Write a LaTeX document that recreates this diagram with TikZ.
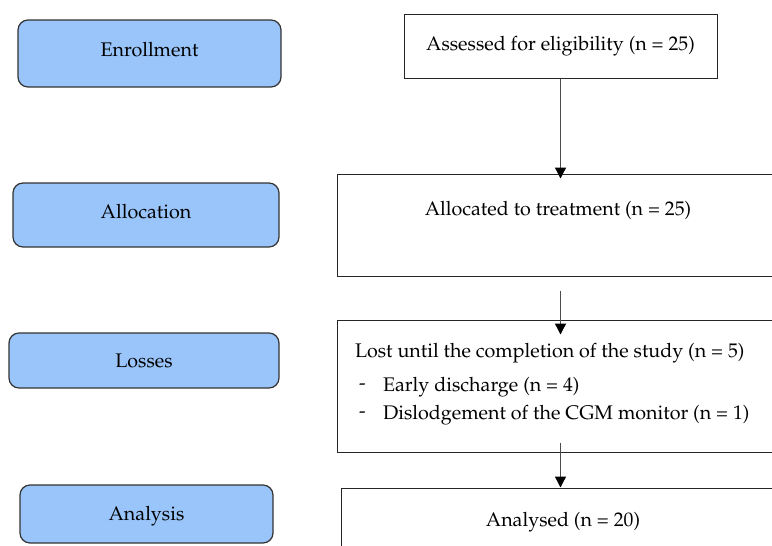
\documentclass[tikz,border=0pt]{standalone}
\usepackage[T1]{fontenc}
\usepackage{mathpazo}
\usetikzlibrary{arrows.meta}
\definecolor{stageblue}{RGB}{153,197,250}
\tikzset{
  stage/.style={draw=black!80, fill=stageblue, rounded corners=5pt, line width=0.6pt, inner sep=0pt},
  stepbox/.style={draw=black!85, line width=0.5pt, inner sep=0pt},
  flow/.style={-{Triangle[width=5.5pt,length=5.5pt,fill=black,color=black]}, line width=0.7pt, draw=black!70}
}

\begin{document}
\begin{tikzpicture}[x=0.5pt, y=-0.5pt, font=\fontsize{9.85}{12}\selectfont]
    \useasboundingbox (0,0) rectangle (772,546);
    \clip (0,0) rectangle (772,546);

    % stages on the left
    \node[stage, minimum width=131.5pt, minimum height=33.5pt] (enrol) at (149.5,53.5) {};
    \node[stage, minimum width=133pt, minimum height=32pt] (alloc) at (146,215) {};
    \node[stage, minimum width=135pt, minimum height=27.5pt] (loss) at (144,360.5) {};
    \node[stage, minimum width=126.5pt, minimum height=29pt] (anal) at (146.5,514) {};

    \node at (149.5,50) {Enrollment};
    \node at (146,212) {Allocation};
    \node at (144,361) {Losses};
    \node at (146.5,516) {Analysis};

    % flow boxes on the right
    \node[stepbox, minimum width=156.5pt, minimum height=32pt] (assessed) at (560.5,46) {Assessed for eligibility (n = 25)};
    \node[stepbox, minimum width=231.5pt, minimum height=51pt] (allocated) at (568.5,225) {};
    \node[stepbox, minimum width=231.5pt, minimum height=66pt] (lost) at (568.5,386) {};
    \node[stepbox, minimum width=229.5pt, minimum height=56pt] (analysed) at (570.5,544) {};

    \node at (558,210) {Allocated to treatment (n = 25)};
    \node[anchor=west] (losttxt) at (348,353) {Lost until the completion of the study (n = 5)};
    \node[anchor=west] at (352,387) {-};
    \node[anchor=west] at (376,387) {Early discharge (n = 4)};
    \node[anchor=west] at (352,415) {-};
    \node[anchor=west] at (376,415) {Dislodgement of the CGM monitor (n = 1)};
    \node at (563,522) {Analysed (n = 20)};

    % arrows
    \draw[flow, shorten >=-2.5pt] (assessed.south) -- (assessed.south |- allocated.north);
    \draw[flow, shorten <=7pt, shorten >=-7.5pt] (assessed.south |- allocated.south) -- (assessed.south |- lost.north);
    \draw[flow, shorten <=-5pt] (assessed.south |- lost.south) -- (assessed.south |- analysed.north);
\end{tikzpicture}
\end{document}
